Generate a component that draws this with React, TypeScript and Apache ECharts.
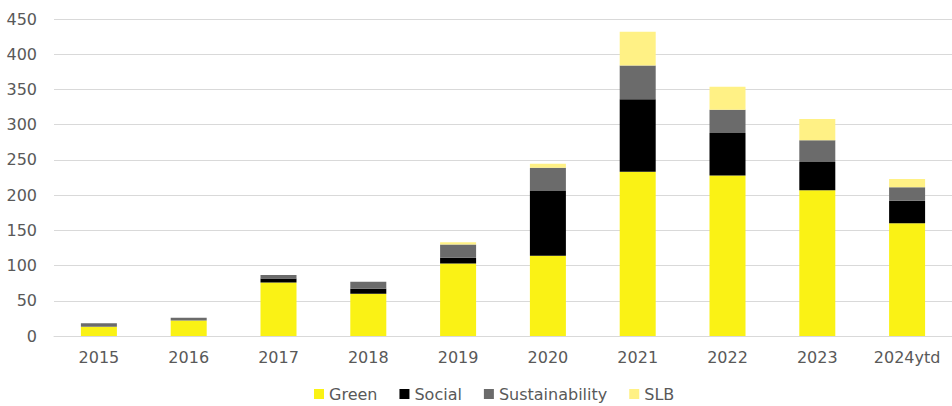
import React, { useEffect, useRef } from "react";
import * as echarts from "echarts";

const categories = ["2015", "2016", "2017", "2018", "2019", "2020", "2021", "2022", "2023", "2024ytd"];
const green = [13, 22, 76, 60, 103, 114, 233, 228, 207, 160];
const social = [0, 0, 5.5, 7, 8, 92, 103, 60, 40, 32];
const sustainability = [5, 4, 5, 10, 19, 33, 48, 33, 31, 19];
const slb = [0, 0, 0, 0, 3, 5.5, 48, 33, 30, 12];
const yTicks = { min: 0, max: 450, interval: 50 };

const FONT = "DejaVu Sans";
const TEXT = "#595959";

export default function App() {
  const ref = useRef<HTMLDivElement>(null);
  useEffect(() => {
    if (!ref.current) return;
    const chart = echarts.init(ref.current, null, { renderer: "svg" });
    const mk = (name: string, data: number[], color: string) => ({
      name,
      type: "bar",
      stack: "total",
      data,
      barWidth: 36,
      itemStyle: { color },
      emphasis: { disabled: true },
    });
    chart.setOption({
      animation: false,
      textStyle: { fontFamily: FONT },
      grid: { left: 54, top: 19, width: 907, height: 317, containLabel: false },
      legend: {
        top: 381,
        left: 309,
        itemWidth: 10,
        itemHeight: 10,
        itemGap: 22,
        icon: "rect",
        textStyle: { color: TEXT, fontSize: 16, fontFamily: FONT },
        data: ["Green", "Social", "Sustainability", "SLB"],
      },
      xAxis: {
        type: "category",
        data: categories,
        axisLine: { lineStyle: { color: "#D9D9D9", width: 1 } },
        axisTick: { show: false },
        axisLabel: { color: TEXT, fontSize: 16, margin: 13, fontFamily: FONT },
      },
      yAxis: {
        type: "value",
        min: yTicks.min,
        max: yTicks.max,
        interval: yTicks.interval,
        axisLine: { show: false },
        axisTick: { show: false },
        splitLine: { lineStyle: { color: "#D9D9D9", width: 1 } },
        axisLabel: { color: TEXT, fontSize: 16, margin: 17, fontFamily: FONT },
      },
      series: [
        mk("Green", green, "#FAF215"),
        mk("Social", social, "#000000"),
        mk("Sustainability", sustainability, "#6B6B6B"),
        mk("SLB", slb, "#FFF185"),
      ],
    });
    return () => chart.dispose();
  }, []);
  return (
    <div
      ref={ref}
      style={{ position: "absolute", left: 0, top: 0, width: 952, height: 406, background: "#fff" }}
    />
  );
}
